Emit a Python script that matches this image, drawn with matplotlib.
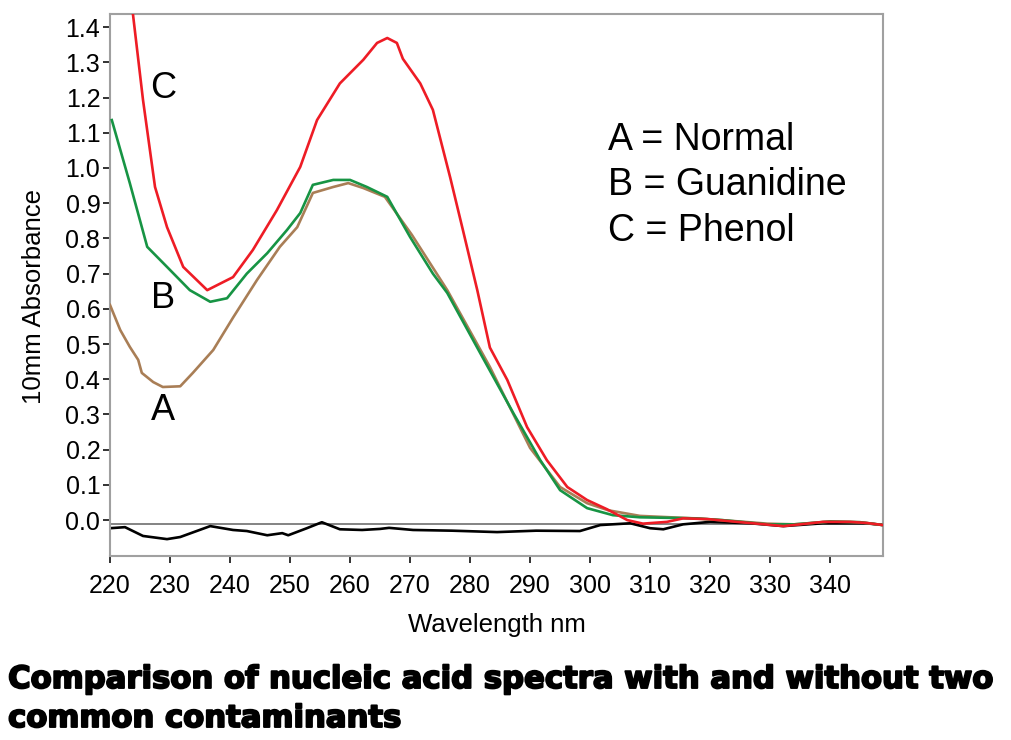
import matplotlib.pyplot as plt
import matplotlib.patheffects as pe

# wavelength (nm) / absorbance pairs
wl_a = [220, 221.7, 223.3, 224.7, 225.3, 227.2, 228.8, 231.7, 233.8, 237.2, 240.5,
        244.5, 248.3, 251.2, 253.8, 257.2, 259.7, 262.2, 265.8, 270.3, 276.2, 283.3,
        290, 295, 299.5, 303, 308.3, 316, 322, 329.5, 334, 340, 345, 348.8]
abs_a = [0.611, 0.54, 0.492, 0.455, 0.418, 0.392, 0.378, 0.38, 0.418, 0.483, 0.575,
         0.682, 0.776, 0.832, 0.929, 0.946, 0.957, 0.943, 0.918, 0.81, 0.653, 0.435,
         0.205, 0.094, 0.048, 0.028, 0.012, 0.006, 0.0, -0.01, -0.012, -0.004, -0.006, -0.014]

wl_b = [220.3, 223.3, 226.2, 229.5, 233.3, 236.7, 239.5, 242.8, 246.2, 249.5, 251.7,
        253.8, 257.2, 260, 262.8, 266.2, 270, 273.8, 276.2, 281.7, 287.2, 291.7, 295,
        299.5, 303.8, 308.3, 317.8, 322, 329.5, 334, 340, 345, 348.8]
abs_b = [1.136, 0.957, 0.776, 0.719, 0.653, 0.62, 0.63, 0.70, 0.758, 0.824, 0.872,
         0.952, 0.966, 0.966, 0.946, 0.918, 0.804, 0.70, 0.645, 0.474, 0.304, 0.17, 0.085,
         0.034, 0.014, 0.008, 0.005, 0.0, -0.012, -0.012, -0.004, -0.006, -0.014]

wl_c = [220, 222, 223.8, 225.5, 227.5, 229.5, 232.2, 236.2, 240.5, 243.8, 247.8, 251.7,
        254.5, 258.3, 262.2, 264.5, 266.2, 267.8, 268.8, 271.7, 273.8, 276.7, 278.8,
        281.2, 283.3, 286.2, 289.5, 292.8, 296.2, 299.5, 302.8, 306.2, 308.8, 312.8,
        315.5, 319.5, 324.5, 327.8, 332.2, 335, 338.8, 343.3, 346, 348.8]
abs_c = [2.05, 1.75, 1.44, 1.193, 0.946, 0.832, 0.719, 0.653, 0.69, 0.767, 0.88, 1.003,
         1.136, 1.24, 1.307, 1.355, 1.369, 1.355, 1.31, 1.24, 1.165, 0.972, 0.824,
         0.653, 0.49, 0.398, 0.264, 0.17, 0.094, 0.057, 0.031, 0.0, -0.01, -0.005,
         0.005, 0.003, -0.005, -0.01, -0.017, -0.012, -0.005, -0.005, -0.008, -0.014]

wl_diff = [220, 222.5, 225.5, 229.5, 231.7, 236.7, 240.5, 242.8, 246.2, 248.7, 249.7,
           252.8, 255.3, 258.3, 262, 265, 266.5, 270.5, 277, 284.5, 291, 298.3, 301.7,
           306.7, 310, 312.2, 315.5, 320, 326.7, 332.2, 338.8, 346, 348.8]
abs_diff = [-0.023, -0.02, -0.045, -0.054, -0.048, -0.017, -0.028, -0.031, -0.043, -0.037,
            -0.043, -0.023, -0.006, -0.026, -0.028, -0.025, -0.022, -0.028, -0.03, -0.034,
            -0.03, -0.031, -0.014, -0.009, -0.023, -0.026, -0.012, -0.005, -0.009, -0.017,
            -0.009, -0.009, -0.014]

y_ticks = [0.0, 0.1, 0.2, 0.3, 0.4, 0.5, 0.6, 0.7, 0.8, 0.9, 1.0, 1.1, 1.2, 1.3, 1.4]
x_ticks = [220, 230, 240, 250, 260, 270, 280, 290, 300, 310, 320, 330, 340]

plt.rcParams['font.family'] = ['Liberation Sans', 'DejaVu Sans']

fig = plt.figure(figsize=(10.12, 7.40), dpi=100)
ax = fig.add_axes([0.1087, 0.2486, 0.7638, 0.7324])

ax.axhline(-0.01, color='#7a7a7a', lw=1.3, zorder=1)
ax.plot(wl_diff, abs_diff, color='black', lw=1.9, zorder=2)
ax.plot(wl_a, abs_a, color='#a97e56', lw=1.9, zorder=3)
ax.plot(wl_b, abs_b, color='#179444', lw=1.9, zorder=4)
ax.plot(wl_c, abs_c, color='#ee1c25', lw=1.9, zorder=5)

ax.set_xlim(220, 348.8)
ax.set_ylim(-0.102, 1.437)
ax.set_xticks(x_ticks)
ax.set_yticks(y_ticks)
ax.set_yticklabels([f"{v:.1f}" for v in y_ticks])
ax.tick_params(labelsize=18, length=5, width=1.3, color='#222222')
ax.tick_params(axis='y', pad=2)
ax.tick_params(axis='x', pad=8)

for s in ax.spines.values():
    s.set_color('#a0a0a0')
    s.set_linewidth(1.5)

ax.set_xlabel("Wavelength nm", fontsize=18.5, labelpad=11)
ax.set_ylabel("10mm Absorbance", fontsize=18.5)
ax.yaxis.set_label_coords(-0.083, 0.478)

ax.text(228.8, 1.227, "C", fontsize=26, ha='center', va='center')
ax.text(228.8, 0.63, "B", fontsize=26, ha='center', va='center')
ax.text(228.8, 0.31, "A", fontsize=26, ha='center', va='center')

ax.text(303, 1.079, "A = Normal", fontsize=27, va='center')
ax.text(303, 0.951, "B = Guanidine", fontsize=27, va='center')
ax.text(303, 0.821, "C = Phenol", fontsize=27, va='center')

title_font = dict(fontsize=22.1, fontweight='bold', family=['DejaVu Sans'], ha='left', va='baseline',
                  path_effects=[pe.withStroke(linewidth=1.4, foreground='black')])
fig.text(0.008, 0.0703, "Comparison of nucleic acid spectra with and without two", **title_font)
fig.text(0.008, 0.0176, "common contaminants", **title_font)

fig.savefig("out.png", dpi=100)
